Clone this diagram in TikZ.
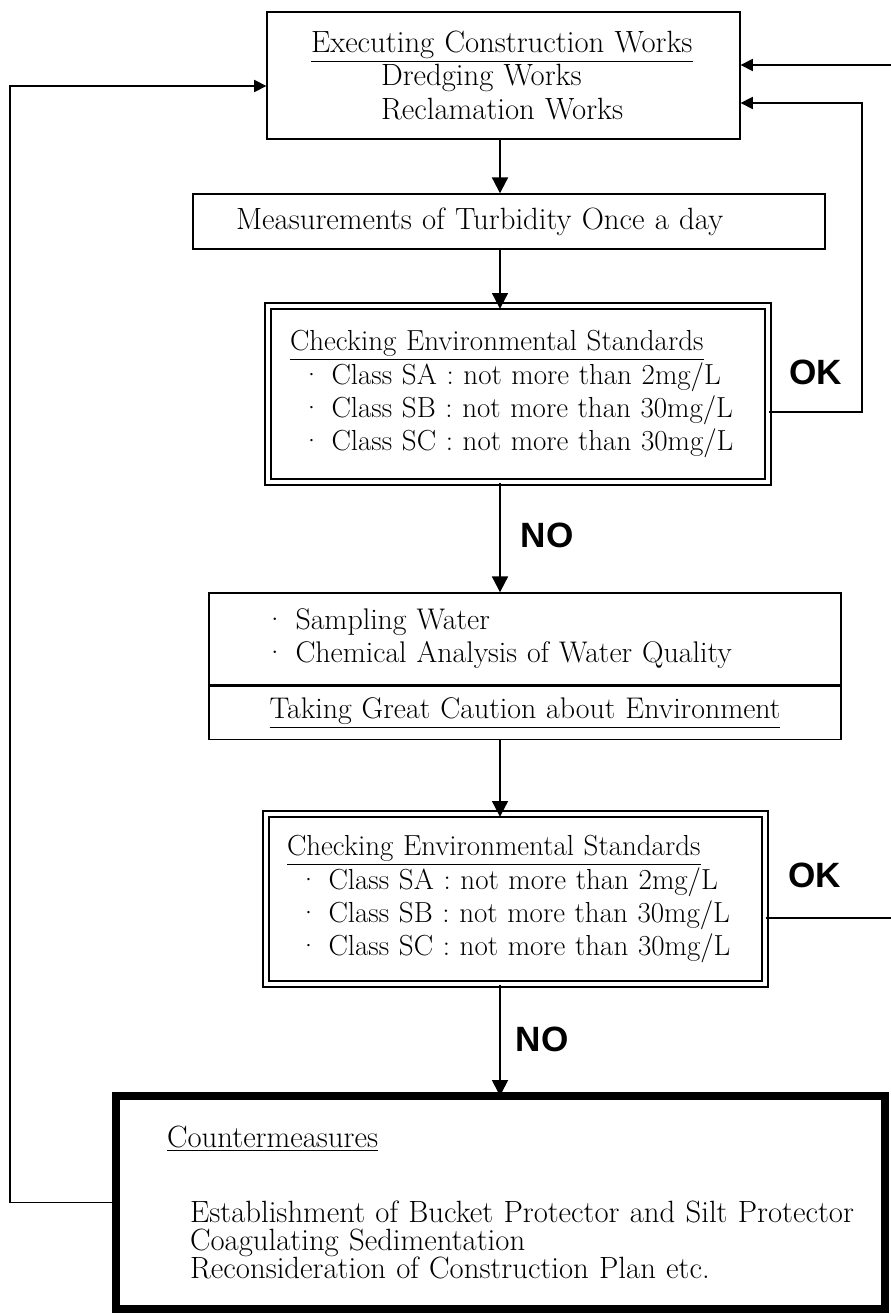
\documentclass[tikz,border=0pt]{standalone}
\usepackage{fontspec}
\newfontfamily\answerfont{Liberation Sans}
\usetikzlibrary{arrows.meta,positioning}

\newcommand{\boxsize}{\fontsize{17.5pt}{18.8pt}\selectfont}
\newcommand{\checksize}{\fontsize{16.5pt}{18.8pt}\selectfont}

\tikzset{
  box/.style={draw, line width=0.8pt, inner sep=0pt, align=left, font=\boxsize},
  checkbox/.style={box, double, double distance=2.5pt, font=\checksize},
  flow/.style={-{Triangle[length=9pt,width=9pt]}, line width=1.2pt},
  back/.style={-{Triangle[length=7pt,width=7pt]}, line width=0.8pt},
  answer/.style={font=\answerfont\bfseries\fontsize{20pt}{20pt}\selectfont}
}

\begin{document}
\begin{tikzpicture}[x=0.02cm, y=-0.02cm]

  \useasboundingbox (0,0) rectangle (891,1314);
  \clip (0,0) rectangle (891,1314);

  % boxes
  \node[box, minimum width=9.46cm, minimum height=2.54cm, text width=9.46cm] (exec) at (503.5,75.5)
    {\hspace*{0.88cm}\underline{Executing Construction Works}\\
     \hspace*{2.28cm}Dredging Works\\
     \hspace*{2.28cm}Reclamation Works};
  \node[box, minimum width=12.64cm, minimum height=1.1cm, text width=12.64cm] (meas) at (509,221.5)
    {\hspace*{0.86cm}Measurements of Turbidity Once a day};
  \node[checkbox, minimum width=10cm, minimum height=3.52cm, text width=10cm] (check1) at (518,394)
    {\hspace*{0.44cm}\underline{Checking Environmental Standards}\\
     \hspace*{0.66cm}\textperiodcentered\ Class SA : not more than 2mg/L\\
     \hspace*{0.66cm}\textperiodcentered\ Class SB : not more than 30mg/L\\
     \hspace*{0.66cm}\textperiodcentered\ Class SC : not more than 30mg/L};
  \node[box, minimum width=12.64cm, minimum height=1.84cm, text width=12.64cm,
        font=\fontsize{17pt}{18.8pt}\selectfont] (sample) at (525,639)
    {\hspace*{1.1cm}\textperiodcentered\ Sampling Water\\
     \hspace*{1.1cm}\textperiodcentered\ Chemical Analysis of Water Quality};
  \node[box, minimum width=12.64cm, minimum height=1.06cm, text width=12.64cm, align=center,
        font=\fontsize{17pt}{18.8pt}\selectfont, below=0pt of sample] (caution)
    {\underline{Taking Great Caution about Environment}};
  \node[checkbox, minimum width=9.98cm, minimum height=3.4cm, text width=9.98cm] (check2) at (515.5,899)
    {\hspace*{0.42cm}\underline{Checking Environmental Standards}\\
     \hspace*{0.64cm}\textperiodcentered\ Class SA : not more than 2mg/L\\
     \hspace*{0.64cm}\textperiodcentered\ Class SB : not more than 30mg/L\\
     \hspace*{0.64cm}\textperiodcentered\ Class SC : not more than 30mg/L};
  \node[box, line width=4.5pt, minimum width=15.38cm, minimum height=4.26cm, text width=15.38cm,
        font=\fontsize{17.5pt}{16pt}\selectfont] (counter) at (500.5,1202.5)
    {\hspace*{1.02cm}\underline{Countermeasures}\\[27pt]
     \hspace*{1.48cm}Establishment of Bucket Protector and Silt Protector\\
     \hspace*{1.48cm}Coagulating Sedimentation\\
     \hspace*{1.48cm}Reconsideration of Construction Plan etc.};

  % answers
  \node[answer] (no1) at (547,535) {NO};
  \node[answer] (no2) at (542,1039) {NO};
  \node[answer] (ok1) at (816,372) {OK};
  \node[answer] (ok2) at (815,875) {OK};

  % main line
  \coordinate (spine) at (500,0);
  \draw[flow] (exec.south -| spine) -- (meas.north -| spine);
  \draw[flow, shorten >=-2pt] (meas.south -| spine) -- (check1.north -| spine);
  \draw[flow] (check1.south -| spine) -- (sample.north -| spine);
  \draw[flow, shorten >=-2pt] (caution.south -| spine) -- (check2.north -| spine);
  \draw[flow, shorten >=-2.2pt] (check2.south -| spine) -- (counter.north -| spine);

  % loops back
  \coordinate (rightA) at (862,0);
  \coordinate (rightB) at (900,0);
  \coordinate (leftC) at (10,0);
  \coordinate (inA) at ([yshift=0.21cm]exec.east);
  \coordinate (inB) at ([yshift=-0.55cm]exec.east);
  \coordinate (inC) at ([yshift=-0.21cm]exec.west);
  \draw[back] ([yshift=-0.36cm]check1.east) -| (inB -| rightA) -- (inB);
  \draw[back] ([yshift=-0.38cm]check2.east) -| (inA -| rightB) -- (inA);
  \draw[back] (counter.west) -| (inC -| leftC) -- (inC);

\end{tikzpicture}
\end{document}
